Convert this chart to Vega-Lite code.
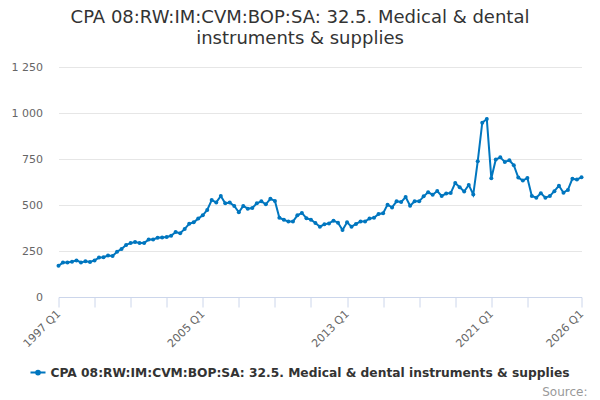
{
  "$schema": "https://vega.github.io/schema/vega-lite/v6.json",
  "width": 523,
  "height": 230,
  "autosize": {"type": "none"},
  "padding": {"left": 58.5, "top": 67, "right": 18.5, "bottom": 103},
  "background": "white",
  "config": {"font": "DejaVu Sans", "view": {"stroke": null}},
  "title": {
    "text": ["CPA 08:RW:IM:CVM:BOP:SA: 32.5. Medical & dental", "instruments & supplies"],
    "fontSize": 18,
    "fontWeight": "normal",
    "color": "#333333",
    "anchor": "middle",
    "frame": "group",
    "dx": -20,
    "offset": 13,
    "lineHeight": 21
  },
  "data": {
    "values": [
      {"date": "1997-01-01", "value": 170}, {"date": "1997-04-01", "value": 187}, {"date": "1997-07-01", "value": 188}, {"date": "1997-10-01", "value": 192},
      {"date": "1998-01-01", "value": 199}, {"date": "1998-04-01", "value": 188}, {"date": "1998-07-01", "value": 194}, {"date": "1998-10-01", "value": 190},
      {"date": "1999-01-01", "value": 199}, {"date": "1999-04-01", "value": 214}, {"date": "1999-07-01", "value": 216}, {"date": "1999-10-01", "value": 225},
      {"date": "2000-01-01", "value": 223}, {"date": "2000-04-01", "value": 246}, {"date": "2000-07-01", "value": 261}, {"date": "2000-10-01", "value": 283},
      {"date": "2001-01-01", "value": 293}, {"date": "2001-04-01", "value": 299}, {"date": "2001-07-01", "value": 293}, {"date": "2001-10-01", "value": 293},
      {"date": "2002-01-01", "value": 312}, {"date": "2002-04-01", "value": 313}, {"date": "2002-07-01", "value": 322}, {"date": "2002-10-01", "value": 324},
      {"date": "2003-01-01", "value": 326}, {"date": "2003-04-01", "value": 333}, {"date": "2003-07-01", "value": 353}, {"date": "2003-10-01", "value": 346},
      {"date": "2004-01-01", "value": 370}, {"date": "2004-04-01", "value": 398}, {"date": "2004-07-01", "value": 406}, {"date": "2004-10-01", "value": 426},
      {"date": "2005-01-01", "value": 444}, {"date": "2005-04-01", "value": 473}, {"date": "2005-07-01", "value": 527}, {"date": "2005-10-01", "value": 514},
      {"date": "2006-01-01", "value": 549}, {"date": "2006-04-01", "value": 509}, {"date": "2006-07-01", "value": 513}, {"date": "2006-10-01", "value": 495},
      {"date": "2007-01-01", "value": 460}, {"date": "2007-04-01", "value": 495}, {"date": "2007-07-01", "value": 480}, {"date": "2007-10-01", "value": 484},
      {"date": "2008-01-01", "value": 509}, {"date": "2008-04-01", "value": 520}, {"date": "2008-07-01", "value": 504}, {"date": "2008-10-01", "value": 534},
      {"date": "2009-01-01", "value": 522}, {"date": "2009-04-01", "value": 431}, {"date": "2009-07-01", "value": 420}, {"date": "2009-10-01", "value": 410},
      {"date": "2010-01-01", "value": 410}, {"date": "2010-04-01", "value": 444}, {"date": "2010-07-01", "value": 457}, {"date": "2010-10-01", "value": 428},
      {"date": "2011-01-01", "value": 420}, {"date": "2011-04-01", "value": 402}, {"date": "2011-07-01", "value": 382}, {"date": "2011-10-01", "value": 395},
      {"date": "2012-01-01", "value": 400}, {"date": "2012-04-01", "value": 415}, {"date": "2012-07-01", "value": 404}, {"date": "2012-10-01", "value": 364},
      {"date": "2013-01-01", "value": 406}, {"date": "2013-04-01", "value": 382}, {"date": "2013-07-01", "value": 397}, {"date": "2013-10-01", "value": 410},
      {"date": "2014-01-01", "value": 411}, {"date": "2014-04-01", "value": 426}, {"date": "2014-07-01", "value": 431}, {"date": "2014-10-01", "value": 451},
      {"date": "2015-01-01", "value": 455}, {"date": "2015-04-01", "value": 502}, {"date": "2015-07-01", "value": 487}, {"date": "2015-10-01", "value": 520},
      {"date": "2016-01-01", "value": 516}, {"date": "2016-04-01", "value": 543}, {"date": "2016-07-01", "value": 496}, {"date": "2016-10-01", "value": 520},
      {"date": "2017-01-01", "value": 520}, {"date": "2017-04-01", "value": 547}, {"date": "2017-07-01", "value": 569}, {"date": "2017-10-01", "value": 556},
      {"date": "2018-01-01", "value": 576}, {"date": "2018-04-01", "value": 549}, {"date": "2018-07-01", "value": 562}, {"date": "2018-10-01", "value": 565},
      {"date": "2019-01-01", "value": 620}, {"date": "2019-04-01", "value": 597}, {"date": "2019-07-01", "value": 573}, {"date": "2019-10-01", "value": 609},
      {"date": "2020-01-01", "value": 557}, {"date": "2020-04-01", "value": 738}, {"date": "2020-07-01", "value": 947}, {"date": "2020-10-01", "value": 967},
      {"date": "2021-01-01", "value": 645}, {"date": "2021-04-01", "value": 747}, {"date": "2021-07-01", "value": 759}, {"date": "2021-10-01", "value": 734},
      {"date": "2022-01-01", "value": 743}, {"date": "2022-04-01", "value": 716}, {"date": "2022-07-01", "value": 649}, {"date": "2022-10-01", "value": 633},
      {"date": "2023-01-01", "value": 647}, {"date": "2023-04-01", "value": 549}, {"date": "2023-07-01", "value": 540}, {"date": "2023-10-01", "value": 564},
      {"date": "2024-01-01", "value": 540}, {"date": "2024-04-01", "value": 549}, {"date": "2024-07-01", "value": 575}, {"date": "2024-10-01", "value": 605},
      {"date": "2025-01-01", "value": 567}, {"date": "2025-04-01", "value": 582}, {"date": "2025-07-01", "value": 643}, {"date": "2025-10-01", "value": 638},
      {"date": "2026-01-01", "value": 651}
    ]
  },
  "mark": {"type": "line", "strokeWidth": 2, "point": {"size": 16, "filled": true}},
  "encoding": {
    "x": {
      "field": "date",
      "type": "temporal",
      "scale": {
        "type": "utc",
        "domain": [
          {"year": 1997, "month": 1, "date": 1, "utc": true},
          {"year": 2026, "month": 1, "date": 1, "utc": true}
        ]
      },
      "axis": {
        "values": [
          {"year": 1997, "month": 1, "date": 1, "utc": true},
          {"year": 1999, "month": 1, "date": 1, "utc": true},
          {"year": 2001, "month": 1, "date": 1, "utc": true},
          {"year": 2003, "month": 1, "date": 1, "utc": true},
          {"year": 2005, "month": 1, "date": 1, "utc": true},
          {"year": 2007, "month": 1, "date": 1, "utc": true},
          {"year": 2009, "month": 1, "date": 1, "utc": true},
          {"year": 2011, "month": 1, "date": 1, "utc": true},
          {"year": 2013, "month": 1, "date": 1, "utc": true},
          {"year": 2015, "month": 1, "date": 1, "utc": true},
          {"year": 2017, "month": 1, "date": 1, "utc": true},
          {"year": 2019, "month": 1, "date": 1, "utc": true},
          {"year": 2021, "month": 1, "date": 1, "utc": true},
          {"year": 2023, "month": 1, "date": 1, "utc": true},
          {"year": 2026, "month": 1, "date": 1, "utc": true}
        ],
        "labelExpr": "indexof([1997, 2005, 2013, 2021, 2026], utcyear(datum.value)) >= 0 ? utcFormat(datum.value, '%Y') + ' Q1' : ''",
        "labelAngle": -45,
        "labelAlign": "right",
        "labelBaseline": "middle",
        "labelFontSize": 11,
        "labelColor": "#666666",
        "labelPadding": 5,
        "labelFlush": false,
        "labelOverlap": false,
        "labelBound": false,
        "grid": false,
        "domainColor": "#ccd6eb",
        "tickColor": "#ccd6eb",
        "tickSize": 10,
        "title": "Source:",
        "titleX": 528.5,
        "titleY": 98,
        "titleAlign": "right",
        "titleBaseline": "alphabetic",
        "titleFontSize": 12,
        "titleFontWeight": "normal",
        "titleColor": "#999999"
      }
    },
    "y": {
      "field": "value",
      "type": "quantitative",
      "scale": {"domain": [0, 1250]},
      "axis": {
        "values": [0, 250, 500, 750, 1000, 1250],
        "labelExpr": "replace(format(datum.value, ','), ',', ' ')",
        "domain": false,
        "ticks": false,
        "tickSize": 0,
        "labelPadding": 16,
        "labelFontSize": 11,
        "labelColor": "#666666",
        "gridColor": "#e6e6e6",
        "title": null
      }
    },
    "color": {
      "datum": "CPA 08:RW:IM:CVM:BOP:SA: 32.5. Medical & dental instruments & supplies",
      "scale": {"range": ["#0076bf"]},
      "legend": {
        "orient": "none",
        "legendX": -29,
        "legendY": 297,
        "padding": 0,
        "title": null,
        "labelFontSize": 12.25,
        "labelFontWeight": "bold",
        "labelColor": "#333333",
        "labelOffset": 4,
        "labelLimit": 0,
        "symbolType": "M-1,0L1,0M-0.25,0A0.25,0.25,0,1,0,0.25,0A0.25,0.25,0,1,0,-0.25,0",
        "symbolSize": 225,
        "symbolStrokeWidth": 2,
        "symbolStrokeColor": "#0076bf",
        "symbolFillColor": "#0076bf"
      }
    }
  }
}
